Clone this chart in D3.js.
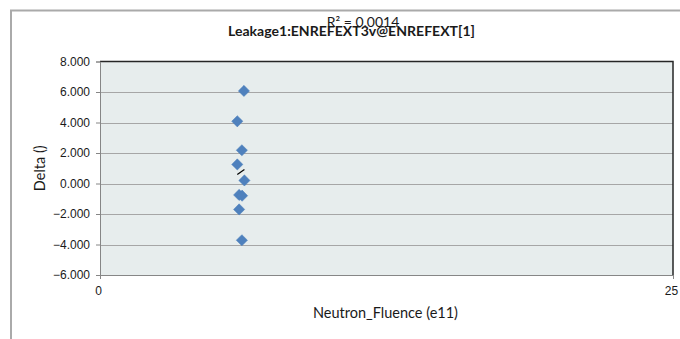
<!DOCTYPE html>
<html>
<head>
<meta charset="utf-8">
<script src="https://cdn.jsdelivr.net/npm/d3@7"></script>
<style>
  html, body { margin: 0; padding: 0; background: #fff; }
  svg { display: block; font-family: Lato, "Liberation Sans", sans-serif; }
</style>
</head>
<body>
<svg id="chart" width="680" height="339"></svg>
<script>
// Neutron fluence (e11) and delta readings
const fluence = [6.28, 5.99, 6.19, 5.99, 6.30, 6.07, 6.20, 6.07, 6.19];
const delta   = [6.07, 4.08, 2.18, 1.25, 0.20, -0.75, -0.80, -1.70, -3.72];
const yTicks  = [-6, -4, -2, 0, 2, 4, 6, 8];
const xTicks  = [0, 25];
const titleText = "Leakage1:ENREFEXT3v@ENREFEXT[1]";
const r2Text = "R² = 0.0014";

const svg = d3.select("#chart");
const W = 680, H = 339;
const plot = { left: 100, right: 673, top: 61.5, bottom: 275 };

// outer chart frame (top and left edges visible)
svg.append("path")
  .attr("d", `M11,${H} V10.5 H${W}`)
  .attr("fill", "none")
  .attr("stroke", "#aaaaaa")
  .attr("stroke-width", 2);

const x = d3.scaleLinear().domain([0, 25]).range([plot.left, plot.right]);
const y = d3.scaleLinear().domain([-6, 8]).range([plot.bottom, plot.top]);

// plot background
svg.append("rect")
  .attr("x", plot.left).attr("y", plot.top)
  .attr("width", plot.right - plot.left)
  .attr("height", plot.bottom - plot.top)
  .attr("fill", "#e7eded");

// horizontal gridlines
svg.append("g")
  .selectAll("line")
  .data(yTicks.filter(t => t > -6 && t < 8))
  .join("line")
  .attr("x1", plot.left).attr("x2", plot.right)
  .attr("y1", d => Math.round(y(d)) + 0.5)
  .attr("y2", d => Math.round(y(d)) + 0.5)
  .attr("stroke", "#a6a6a6")
  .attr("stroke-width", 1);

// top and right frame of the plot area
svg.append("path")
  .attr("d", `M${plot.left},${plot.top} H${plot.right} V${plot.bottom}`)
  .attr("fill", "none")
  .attr("stroke", "#262626")
  .attr("stroke-width", 1.5);

// y axis
const yAxis = d3.axisLeft(y)
  .tickValues(yTicks)
  .tickSize(4)
  .tickPadding(6)
  .tickFormat(d3.format(".3f"));
const gy = svg.append("g")
  .attr("transform", `translate(${plot.left},0)`)
  .call(yAxis);
gy.select(".domain").attr("stroke", "#868686");
gy.selectAll(".tick line").attr("stroke", "#868686");
gy.selectAll(".tick text")
  .attr("fill", "#1a1a1a")
  .style("font-size", "12px");

// x axis
const xAxis = d3.axisBottom(x)
  .tickValues(xTicks)
  .tickSize(4)
  .tickPadding(7)
  .tickFormat(d3.format("d"));
const gx = svg.append("g")
  .attr("transform", `translate(0,${plot.bottom})`)
  .call(xAxis);
gx.select(".domain").attr("stroke", "#868686");
gx.selectAll(".tick line").attr("stroke", "#868686");
gx.selectAll(".tick text")
  .attr("fill", "#1a1a1a")
  .style("font-size", "12px");
gx.selectAll(".tick").filter(d => d === 0).select("text").attr("dx", -2);
gx.selectAll(".tick").filter(d => d === 25).select("text").attr("dx", -2);

// data points as diamonds
const diamond = d3.symbol().type(d3.symbolDiamond2).size(80);
svg.append("g")
  .selectAll("path")
  .data(d3.zip(fluence, delta))
  .join("path")
  .attr("transform", d => `translate(${x(d[0])},${y(d[1])})`)
  .attr("d", diamond)
  .attr("fill", "#4f81bd")
  .attr("stroke", "#4a7ebb")
  .attr("stroke-width", 0.5);

// least-squares trendline over the data's fluence range
const mx = d3.mean(fluence), my = d3.mean(delta);
const sxy = d3.sum(fluence, (v, i) => (v - mx) * (delta[i] - my));
const sxx = d3.sum(fluence, v => (v - mx) * (v - mx));
const slope = sxy / sxx, intercept = my - slope * mx;
const [x0, x1] = d3.extent(fluence);
svg.append("line")
  .attr("x1", x(x0)).attr("y1", y(intercept + slope * x0))
  .attr("x2", x(x1)).attr("y2", y(intercept + slope * x1))
  .attr("stroke", "#000")
  .attr("stroke-width", 1.2);

// titles
svg.append("text")
  .attr("x", 363).attr("y", 27)
  .attr("text-anchor", "middle")
  .style("font-size", "14px")
  .attr("fill", "#1a1a1a")
  .text(r2Text);

svg.append("text")
  .attr("x", 351.5).attr("y", 36)
  .attr("text-anchor", "middle")
  .style("font-size", "14px")
  .style("font-weight", "bold")
  .attr("fill", "#1a1a1a")
  .attr("textLength", 247)
  .attr("lengthAdjust", "spacingAndGlyphs")
  .text(titleText);

svg.append("text")
  .attr("x", 385.5).attr("y", 318)
  .attr("text-anchor", "middle")
  .style("font-size", "14.5px")
  .attr("fill", "#1a1a1a")
  .text("Neutron_Fluence (e11)");

svg.append("text")
  .attr("transform", `translate(45,${(plot.top + plot.bottom) / 2}) rotate(-90)`)
  .attr("text-anchor", "middle")
  .style("font-size", "14.5px")
  .attr("fill", "#1a1a1a")
  .text("Delta ()");
</script>
</body>
</html>
